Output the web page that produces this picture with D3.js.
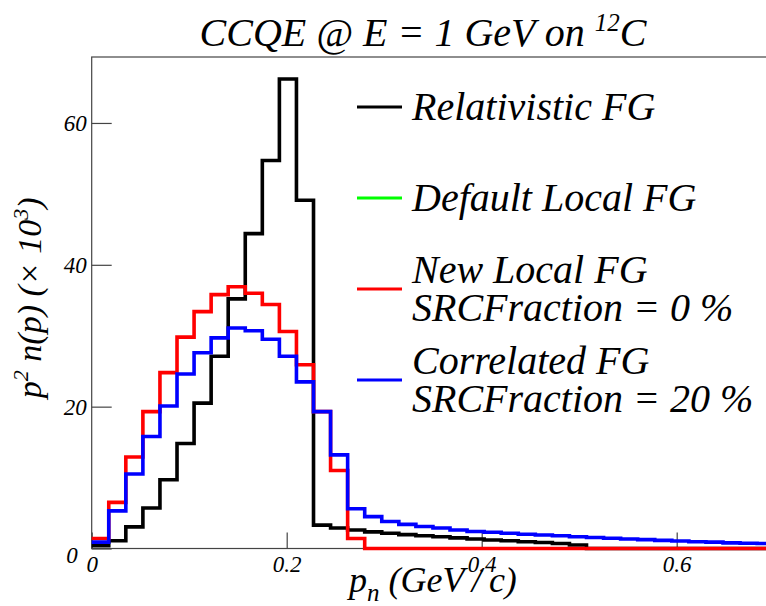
<!DOCTYPE html>
<meta charset="utf-8">
<title>CCQE @ E = 1 GeV on 12C</title>
<style>
  body { margin: 0; background: #fff; }
  svg text { font-family: "Liberation Serif", "Times New Roman", "DejaVu Serif", serif; font-style: italic; fill: #000; }
</style>
<body>
<script src="https://d3js.org/d3.v7.min.js"></script>
<script>
// 40 bins of p_n between 0 and 0.7 GeV/c, values in units of 10^3
const nBins = 40;
const xMax = 0.7;

const relativisticFG = [0.4, 1.1, 3.05, 5.7, 9.7, 14.8, 20.5, 27.1, 35.2, 44.4,
  54.7, 66.2, 49.1, 3.3, 2.9, 2.6, 2.35, 2.15, 1.95, 1.8,
  1.65, 1.5, 1.35, 1.2, 1.1, 0.95, 0.85, 0.7, 0.5, 0,
  0, 0, 0, 0, 0, 0, 0, 0, 0, 0];
const newLocalFG = [1.4, 6.5, 12.9, 19.3, 24.8, 29.8, 33.4, 35.8, 36.9, 36.0,
  34.4, 30.6, 25.9, 19.3, 11.0, 1.4, 0, 0, 0, 0,
  0, 0, 0, 0, 0, 0, 0, 0, 0, 0,
  0, 0, 0, 0, 0, 0, 0, 0, 0, 0];
const correlatedFG = [0.9, 5.3, 10.5, 15.8, 20.1, 24.6, 27.6, 29.7, 31.1, 30.7,
  29.5, 27.1, 23.5, 19.3, 13.2, 5.6, 4.5, 3.8, 3.4, 3.1,
  2.9, 2.6, 2.4, 2.3, 2.15, 2.0, 1.9, 1.8, 1.65, 1.55,
  1.45, 1.35, 1.25, 1.15, 1.05, 0.95, 0.9, 0.8, 0.75, 0.7];

const xTicks = [0, 0.2, 0.4, 0.6];
const yTicks = [0, 20, 40, 60];
const yMax = 69.3;

const legendLabels = [["Relativistic FG"], ["Default Local FG"],
  ["New Local FG", "SRCFraction = 0 %"], ["Correlated FG", "SRCFraction = 20 %"]];
const legendColors = ["#000000", "#00ff00", "#ff0000", "#0000ff"];

const W = 766, H = 606;
const frame = {x0: 91.7, x1: 774.2, y0: 57, y1: 548.5};

const svg = d3.select("body").append("svg")
    .attr("width", W).attr("height", H)
    .style("display", "block");

svg.append("rect").attr("width", W).attr("height", H).attr("fill", "#fff");

const x = d3.scaleLinear().domain([0, xMax]).range([frame.x0, frame.x1]);
const y = d3.scaleLinear().domain([0, yMax]).range([frame.y1, frame.y0]);
const binW = xMax / nBins;

// frame
svg.append("rect")
    .attr("x", frame.x0).attr("y", frame.y0)
    .attr("width", frame.x1 - frame.x0).attr("height", frame.y1 - frame.y0)
    .attr("fill", "none").attr("stroke", "#444").attr("stroke-width", 1.2);

// axes, ticks inside the frame like ROOT
const xAxis = svg.append("g")
    .attr("transform", `translate(0,${frame.y1})`)
    .call(d3.axisBottom(x).tickValues(xTicks).tickSizeInner(-16).tickSizeOuter(0)
      .tickPadding(7).tickFormat(d => d === 0 ? "0" : d3.format(".1f")(d)));
xAxis.select(".domain").remove();
xAxis.attr("font-family", null);
xAxis.selectAll("line").attr("stroke", "#444").attr("stroke-width", 1.2);
xAxis.selectAll("text").attr("font-size", 23);

const yAxis = svg.append("g")
    .attr("transform", `translate(${frame.x0},0)`)
    .call(d3.axisLeft(y).tickValues(yTicks).tickSizeInner(-20).tickSizeOuter(0).tickPadding(5));
yAxis.select(".domain").remove();
yAxis.attr("font-family", null);
yAxis.selectAll("line").attr("stroke", "#444").attr("stroke-width", 1.2);
yAxis.selectAll("text").attr("font-size", 23);
yAxis.selectAll(".tick").filter(d => d === 0).select("text").attr("dx", -9).attr("dy", "0.6em");

// histograms
const step = d3.line()
    .x(d => x(d[0]))
    .y(d => y(d[1]))
    .curve(d3.curveStepAfter);

function histPoints(vals) {
  const pts = vals.map((v, i) => [i * binW, v]);
  pts.push([nBins * binW, vals[vals.length - 1]]);
  return pts;
}

[[relativisticFG, legendColors[0]], [newLocalFG, legendColors[2]], [correlatedFG, legendColors[3]]]
  .forEach(([vals, col]) => {
    svg.append("path")
        .attr("d", step(histPoints(vals)))
        .attr("fill", "none")
        .attr("stroke", col)
        .attr("stroke-width", 3.6)
        .attr("stroke-linejoin", "miter");
  });

// legend
const legendY = [107, 198, 289, 380];
const lg = svg.append("g");
legendLabels.forEach((lines, i) => {
  const ly = legendY[i];
  lg.append("line")
      .attr("x1", 357).attr("x2", 402)
      .attr("y1", ly).attr("y2", ly)
      .attr("stroke", legendColors[i]).attr("stroke-width", 3);
  lines.forEach((t, j) => {
    lg.append("text")
        .attr("x", 412)
        .attr("y", ly + 13 - (lines.length - 1) * 19 + j * 38)
        .attr("font-size", 40)
        .text(t);
  });
});

// title
const title = svg.append("text")
    .attr("x", 423).attr("y", 46)
    .attr("text-anchor", "middle")
    .attr("font-size", 40);
title.append("tspan").text("CCQE @ E = 1 GeV on ");
title.append("tspan").attr("font-size", 25).attr("dy", -15).text("12");
title.append("tspan").attr("dy", 15).text("C");

// x axis title
const xt = svg.append("text")
    .attr("x", (frame.x0 + frame.x1) / 2).attr("y", 592)
    .attr("text-anchor", "middle")
    .attr("font-size", 36);
xt.append("tspan").text("p");
xt.append("tspan").attr("font-size", 25).attr("dy", 9).text("n");
xt.append("tspan").attr("dy", -9).text(" (GeV\u2009/\u2009c)");

// y axis title
const yt = svg.append("text")
    .attr("transform", `translate(41,${(frame.y0 + frame.y1) / 2 - 5}) rotate(-90)`)
    .attr("text-anchor", "middle")
    .attr("font-size", 34);
yt.append("tspan").text("p");
yt.append("tspan").attr("font-size", 22).attr("dy", -13).text("2");
yt.append("tspan").attr("dy", 13).text(" n(p) (\u00d7 10");
yt.append("tspan").attr("font-size", 22).attr("dy", -13).text("3");
yt.append("tspan").attr("dy", 13).text(")");
</script>
</body>
